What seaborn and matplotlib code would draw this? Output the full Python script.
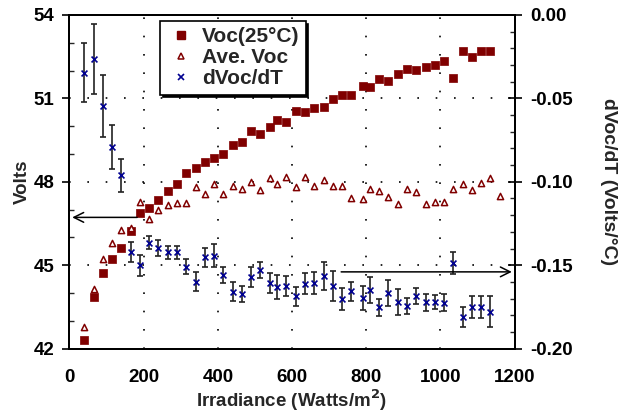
import seaborn as sns
import matplotlib.pyplot as plt
from matplotlib.ticker import MultipleLocator
from matplotlib.lines import Line2D

# irradiance (W/m2) for Voc(25C) and dVoc/dT
irr = [40, 65, 90, 115, 140, 165, 190, 215, 240, 265, 290, 315, 340, 365, 390,
       415, 440, 465, 490, 515, 540, 560, 585, 610, 635, 660, 685, 710, 735, 760,
       790, 810, 835, 860, 885, 910, 935, 960, 985, 1010, 1035, 1060, 1085, 1110, 1135]
voc25 = [42.3, 43.87, 44.73, 45.21, 45.63, 46.24, 46.89, 47.07, 47.35, 47.67,
         47.91, 48.31, 48.50, 48.71, 48.86, 49.00, 49.31, 49.42, 49.82, 49.71,
         49.98, 50.21, 50.15, 50.54, 50.51, 50.65, 50.70, 50.99, 51.12, 51.12,
         51.46, 51.40, 51.71, 51.64, 51.88, 52.05, 52.02, 52.12, 52.21, 52.36,
         51.73, 52.72, 52.48, 52.69, 52.72]

# average Voc has one more point at the end
ave_irr = irr + [1160]
ave_voc = [42.76, 44.15, 45.23, 45.79, 46.27, 46.35, 47.27, 46.66, 46.99, 47.15,
           47.24, 47.24, 47.80, 47.56, 47.91, 47.56, 47.85, 47.74, 47.99, 47.70,
           48.13, 47.92, 48.18, 47.80, 48.16, 47.85, 48.05, 47.86, 47.86, 47.41,
           47.37, 47.74, 47.66, 47.45, 47.21, 47.73, 47.64, 47.21, 47.26, 47.28,
           47.74, 47.92, 47.70, 47.95, 48.14, 47.50]

dvoc = [-0.0346, -0.0266, -0.0546, -0.0794, -0.0962, -0.1422, -0.150, -0.1364, -0.1398, -0.1422,
        -0.1422, -0.1508, -0.160, -0.1452, -0.1442, -0.1558, -0.1658, -0.1672, -0.157, -0.1528,
        -0.1606, -0.163, -0.1622, -0.1686, -0.161, -0.1606, -0.1562, -0.1622, -0.1702, -0.1656,
        -0.1698, -0.165, -0.1752, -0.1666, -0.1722, -0.1742, -0.1686, -0.1722, -0.1718, -0.1726,
        -0.1488, -0.181, -0.175, -0.175, -0.1778]
dvoc_err = [0.0176, 0.021, 0.0187, 0.0132, 0.010, 0.006, 0.0063, 0.004, 0.0048, 0.004,
            0.004, 0.0045, 0.0057, 0.0057, 0.007, 0.0048, 0.0057, 0.005, 0.006, 0.0048,
            0.006, 0.007, 0.006, 0.0057, 0.0065, 0.0066, 0.0084, 0.009, 0.0065, 0.0056,
            0.0072, 0.0077, 0.0052, 0.0078, 0.0077, 0.0048, 0.0047, 0.005, 0.0042, 0.0051,
            0.0066, 0.006, 0.0065, 0.0067, 0.0092]

red = "#800000"
blue = "#000090"

sns.set_style("white")
plt.rcParams["font.family"] = ["Liberation Sans", "DejaVu Sans"]
plt.rcParams["font.weight"] = "bold"

fig = plt.figure(figsize=(6.2, 4.16), dpi=100)
ax = fig.add_axes([0.112, 0.162, 0.718, 0.802])
ax2 = ax.twinx()

sns.scatterplot(x=irr, y=voc25, ax=ax, marker="s", s=28, color=red,
                edgecolor=red, linewidth=0.5, zorder=3)
sns.scatterplot(x=ave_irr, y=ave_voc, ax=ax, marker="^", s=20, facecolor="white",
                edgecolor=red, linewidth=1.1, zorder=3)

ax2.errorbar(irr, dvoc, yerr=dvoc_err, fmt="none", ecolor="#222222",
             elinewidth=1.2, capsize=2.5, capthick=1.2, zorder=2)
sns.scatterplot(x=irr, y=dvoc, ax=ax2, marker="x", s=18, color=blue,
                linewidth=1.2, zorder=3)

ax.set_xlim(0, 1200)
ax.set_ylim(42, 54)
ax2.set_ylim(-0.2, 0.0)

ax.xaxis.set_major_locator(MultipleLocator(200))
ax.xaxis.set_minor_locator(MultipleLocator(100))
ax.yaxis.set_major_locator(MultipleLocator(3))
ax.yaxis.set_minor_locator(MultipleLocator(1))
ax2.yaxis.set_major_locator(MultipleLocator(0.05))
ax2.yaxis.set_minor_locator(MultipleLocator(0.01))
ax2.yaxis.set_major_formatter(plt.FormatStrFormatter("%.2f"))

for a in (ax, ax2):
    a.tick_params(which="major", width=1.2, labelsize=13.5, colors="black")
    a.tick_params(which="minor", direction="in", length=3.5, width=1)
    for sp in a.spines.values():
        sp.set_linewidth(1.4)
        sp.set_color("black")
ax.tick_params(axis="x", which="major", direction="out", length=4, pad=11)
ax.tick_params(axis="y", which="major", direction="out", length=5, pad=6)
ax2.tick_params(axis="y", which="major", direction="inout", length=10, pad=6)

# dotted grid
ax.grid(True, which="major", linestyle=(0, (1, 10)), color="black", linewidth=1.2)

ax.set_xlabel("Irradiance (Watts/m$^\\mathbf{2}$)", fontsize=13.5, fontweight="bold", labelpad=1)
ax.set_ylabel("Volts", fontsize=13.5, fontweight="bold", labelpad=2)
ax2.set_ylabel("dVoc/dT (Volts/°C)", fontsize=14, fontweight="bold",
               rotation=270, labelpad=32)

# arrows pointing to the matching axis
ax.annotate("", xy=(0, 46.72), xytext=(190, 46.72),
            arrowprops=dict(arrowstyle="->,head_length=0.7,head_width=0.35", lw=1.1, color="black"))
ax2.annotate("", xy=(1200, -0.154), xytext=(725, -0.154),
             arrowprops=dict(arrowstyle="->,head_length=0.7,head_width=0.35", lw=1.1, color="black"))

handles = [
    Line2D([], [], marker="s", linestyle="none", color=red, markersize=6),
    Line2D([], [], marker="^", linestyle="none", markerfacecolor="white",
           markeredgecolor=red, markeredgewidth=1.1, markersize=5),
    Line2D([], [], marker="x", linestyle="none", color=blue, markersize=5, markeredgewidth=1.2),
]
leg = ax2.legend(handles, ["Voc(25°C)", "Ave. Voc", "dVoc/dT"], loc="upper left",
                 bbox_to_anchor=(0.204, 0.982), borderaxespad=0, fontsize=15, frameon=True,
                 fancybox=False, shadow={"color": "black", "alpha": 1},
                 handletextpad=0.3, labelspacing=0.1, borderpad=0.3, handlelength=1.4)
leg.get_frame().set_edgecolor("black")
leg.get_frame().set_linewidth(1.2)
leg.set_zorder(10)

plt.savefig("out.png", dpi=100)
